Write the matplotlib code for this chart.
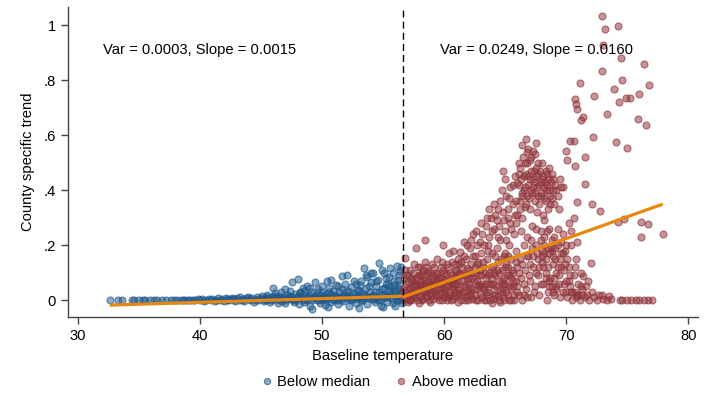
import matplotlib
matplotlib.use("Agg")
import matplotlib.pyplot as plt
from matplotlib.colors import to_rgba
from matplotlib.lines import Line2D

plt.rcParams['font.family'] = ['Liberation Sans', 'DejaVu Sans']

# ---------------- data ----------------
below_pts = [
    (32.6,0),(33.3,0),(33.6,0),(34.4,0),(34.6,0),(35.0,0.001),(35.3,0),(35.5,0),(35.9,0.001),(36.2,0),
    (36.5,0),(36.9,0.001),(37.2,0),(37.6,0),(37.9,0.001),(38.1,0),(38.4,0.002),(38.6,0),(38.8,0.001),(39.0,0),
    (39.2,0.002),(39.4,0),(39.6,0.001),(39.8,0.003),
    (40.0,0.001),(40.2,0.003),(40.3,-0.002),(40.5,0.002),(40.7,0.004),(40.9,0),(41.0,0.005),(41.2,-0.003),
    (41.3,0.002),(41.5,0.006),(41.6,0.001),(41.8,0.004),(42.0,-0.002),(42.1,0.007),(42.3,0.003),(42.4,0),
    (42.6,0.008),(42.7,0.004),(42.9,-0.004),(43.0,0.006),(43.2,0.002),(43.3,0.01),(43.5,0.004),(43.6,-0.003),
    (43.8,0.007),(43.9,0.012),(44.1,0.002),(44.2,0.008),(44.4,-0.005),(44.5,0.005),(44.7,0.011),(44.8,0.001),
    (45.0,0.008),
    (45.1,0.015),(45.2,-0.004),(45.3,0.005),(45.5,0.02),(45.6,0.009),(45.7,-0.008),(45.9,0.012),(46.0,0.003),
    (46.1,0.025),(46.3,0.007),(46.4,-0.01),(46.5,0.016),(46.6,0.03),(46.8,0.004),(46.9,0.011),(47.0,-0.012),
    (47.1,0.02),(47.2,0.006),(47.4,0.035),(47.5,0.065),(47.5,0.013),(47.7,-0.005),(47.8,0.024),(47.9,0.002),
    (48.0,0.076),(48.0,0.015),(48.1,-0.015),(48.2,0.03),(48.3,0.008),(48.4,0.045),(48.5,-0.006),(48.6,0.018),
    (48.7,0.004),(48.8,0.05),(48.9,0.01),(49.0,-0.02),(49.1,0.028),(49.2,-0.033),(49.3,0.012),(49.4,0.066),
    (49.5,0.02),(49.6,0.002),(49.7,0.04),(49.8,-0.01),(49.9,0.015),
    (50.0,0.03),(50.1,0.005),(50.2,-0.018),(50.3,0.022),(50.4,0.069),(50.5,0.01),(50.6,0.045),(50.7,0.073),
    (50.7,-0.006),(50.8,0.016),(50.9,0.035),(51.0,0.002),(51.1,0.055),(51.2,0.012),(51.3,-0.015),(51.4,0.028),
    (51.5,0.008),(51.6,0.087),(51.6,0.04),(51.7,-0.004),(51.8,0.018),(51.9,0.06),(52.0,0.006),(52.1,0.032),
    (52.2,-0.02),(52.3,0.014),(52.4,0.048),(52.5,0.003),(52.6,0.07),(52.7,0.022),(52.8,-0.01),(52.9,0.038),
    (53.0,0.01),(53.1,0.055),(53.2,-0.003),(53.3,0.026),(53.4,0.116),(53.5,0.015),(53.6,0.045),(53.7,0.085),
    (53.7,-0.015),(53.8,0.008),(53.9,0.03),(54.0,0.065),(54.1,0.004),(54.2,0.097),(54.2,0.02),(54.3,-0.008),
    (54.4,0.05),(54.5,0.012),(54.6,0.075),(54.7,0.134),(54.7,0.028),(54.8,-0.02),(54.9,0.04),(55.0,0.007),
    (55.1,0.097),(55.1,0.018),(55.2,0.06),(55.3,-0.005),(55.4,0.035),(55.5,0.085),(55.5,0.01),(55.6,0.05),
    (55.7,0.022),(55.8,-0.012),(55.9,0.07),(56.0,0.03),(56.1,0.124),(56.1,0.005),(56.2,0.045),(56.3,0.09),
    (56.3,0.015),(56.4,0.06),(56.5,0.12),(56.5,0.025),(56.55,-0.01),
    (45.4,0.002),(46.2,0.01),(46.7,-0.002),(47.3,0.008),(47.6,0.0),(48.25,0.012),(48.75,-0.001),(49.25,0.006),
    (49.75,0.0),(50.25,0.008),(50.75,0.02),(51.25,0.0),(51.75,0.01),(52.25,0.004),(52.75,0.009),(53.25,0.0),
    (53.75,0.012),(54.25,0.005),(54.75,0.0),(55.25,0.01),(55.75,0.004),(56.25,0.0),(50.5,-0.025),(53.0,-0.028),
    (55.0,-0.025),(56.0,-0.02),(52.0,0.09),(54.0,0.1),(55.8,0.1),(56.4,0.105),(55.6,0.115),
]

below_pts_dense = [
    (42.2,0.001),(42.8,0.003),(43.4,0.0),(44.0,0.004),(44.6,0.0),(45.15,0.004),(45.45,0.01),(45.8,0.0),
    (46.05,0.014),(46.35,0.0),(46.75,0.007),(47.05,0.002),(47.35,0.016),(47.65,0.004),(47.95,0.009),
    (48.15,0.025),(48.45,0.0),(48.65,0.008),(48.95,0.02),(49.15,0.002),(49.45,0.01),(49.65,0.03),
    (49.95,0.005),(50.15,0.015),(50.35,0.0),(50.55,0.03),(50.85,0.005),(51.05,0.02),(51.35,0.01),
    (51.55,0.0),(51.85,0.03),(52.05,0.016),(52.35,0.0),(52.55,0.025),(52.85,0.012),(53.05,0.035),
    (53.35,0.005),(53.55,0.02),(53.85,0.05),(54.05,0.015),(54.35,0.03),(54.55,0.0),(54.85,0.02),
    (55.05,0.045),(55.35,0.015),(55.55,0.03),(55.85,0.04),(56.05,0.015),(56.35,0.035),(56.5,0.0),
    (55.2,0.08),(54.4,0.07),(53.2,0.07),(52.8,0.06),(56.2,0.075),(55.9,0.055),(51.3,0.05),(50.0,0.05),
    (49.0,0.045),(48.5,0.035),(47.0,0.04),(46.0,0.045),(53.6,0.09),(54.9,0.11),(55.4,0.06),
]

above_pts = [
    # 56.6 - 60
    (56.7,0.005),(56.8,0.03),(56.8,0.153),(56.9,0.06),(57.0,-0.005),(57.0,0.09),(57.1,0.02),(57.2,0.045),
    (57.2,0.11),(57.3,0.0),(57.4,0.07),(57.5,0.03),(57.5,0.13),(57.6,0.01),(57.7,0.19),(57.7,0.055),
    (57.8,0.085),(57.9,-0.01),(57.9,0.04),(58.0,0.12),(58.0,0.015),(58.1,0.065),(58.2,0.095),(58.2,0.0),
    (58.3,0.035),(58.4,0.22),(58.4,0.14),(58.5,0.075),(58.5,0.01),(58.6,0.05),(58.7,0.105),(58.8,-0.005),
    (58.8,0.025),(58.9,0.08),(59.0,0.13),(59.0,0.04),(59.1,0.005),(59.2,0.06),(59.3,0.1),(59.3,0.02),
    (59.4,0.15),(59.5,0.045),(59.6,0.0),(59.6,0.085),(59.7,0.12),(59.8,0.03),(59.9,0.2),(59.9,0.065),
    (60.0,0.01),(60.0,0.1),
    (56.9,0.015),(57.1,0.04),(57.3,0.08),(57.6,0.06),(57.8,0.0),(58.1,0.03),(58.3,0.11),(58.6,0.015),
    (58.9,0.055),(59.1,0.09),(59.4,0.01),(59.7,0.04),(57.4,0.02),(58.7,0.07),(59.8,0.14),(57.2,0.0),
    (58.0,0.05),(59.5,0.075),(56.7,0.08),(56.75,0.11),
    # 60 - 63
    (60.1,0.04),(60.2,0.13),(60.2,0.0),(60.3,0.07),(60.4,0.17),(60.4,0.02),(60.5,0.1),(60.6,0.05),
    (60.7,0.18),(60.7,0.005),(60.8,0.08),(60.9,0.13),(60.9,0.03),(61.0,0.06),(61.1,0.15),(61.1,-0.005),
    (61.2,0.1),(61.3,0.175),(61.3,0.04),(61.4,0.02),(61.5,0.12),(61.5,0.07),(61.6,0.21),(61.7,0.0),
    (61.7,0.09),(61.8,0.15),(61.9,0.035),(62.0,0.11),(62.0,0.06),(62.1,0.19),(62.2,0.015),(62.2,0.13),
    (62.3,0.08),(62.4,0.24),(62.4,0.04),(62.5,0.16),(62.6,0.0),(62.6,0.1),(62.7,0.2),(62.8,0.055),
    (62.8,0.14),(62.9,0.025),(63.0,0.28),(63.0,0.09),(63.0,0.17),
    (60.3,0.01),(60.6,0.09),(60.9,0.06),(61.2,0.025),(61.6,0.05),(61.9,0.08),(62.3,0.005),(62.7,0.07),
    (60.5,0.03),(61.0,0.11),(61.4,0.14),(62.1,0.045),(62.5,0.12),(62.9,0.11),(60.8,0.015),(61.8,0.01),
    # 63 - 66
    (63.1,0.01),(63.2,0.12),(63.2,0.05),(63.3,0.2),(63.4,0.0),(63.4,0.08),(63.5,0.15),(63.5,0.3),
    (63.6,0.03),(63.7,0.1),(63.7,0.23),(63.8,0.3),(63.8,0.06),(63.9,0.17),(64.0,0.005),(64.0,0.12),
    (64.1,0.26),(64.1,0.04),(64.2,0.09),(64.3,0.29),(64.3,0.19),(64.4,0.015),(64.4,0.14),(64.5,0.07),
    (64.6,0.36),(64.6,0.22),(64.7,0.03),(64.7,0.11),(64.8,0.47),(64.8,0.32),(64.9,0.16),(64.9,0.0),
    (65.0,0.06),(65.0,0.25),(65.1,0.38),(65.1,0.13),(65.2,0.33),(65.2,0.02),(65.3,0.09),(65.3,0.2),
    (65.4,0.41),(65.4,0.28),(65.5,0.045),(65.5,0.15),(65.6,0.35),(65.6,0.1),(65.7,0.0),(65.7,0.24),
    (65.8,0.45),(65.8,0.31),(65.9,0.07),(65.9,0.18),(66.0,0.425),(66.0,0.03),
    (63.3,0.04),(63.6,0.09),(64.0,0.06),(64.2,0.02),(64.5,0.1),(64.9,0.08),(65.3,0.0),(65.6,0.05),
    (66.0,0.12),(63.9,-0.01),(64.6,-0.005),(65.2,0.12),(63.5,0.02),(64.8,0.04),(65.0,0.17),
    # 66 - 70 upper arm
    (66.1,0.5),(66.2,0.36),(66.3,0.44),(66.4,0.564),(66.4,0.3),(66.5,0.4),(66.6,0.5),(66.6,0.34),
    (66.7,0.585),(66.7,0.46),(66.8,0.538),(66.8,0.38),(66.9,0.42),(67.0,0.51),(67.0,0.33),(67.1,0.47),
    (67.2,0.39),(67.3,0.542),(67.3,0.44),(67.4,0.36),(67.5,0.571),(67.5,0.48),(67.6,0.41),(67.7,0.46),
    (67.8,0.35),(67.9,0.43),(68.0,0.5),(68.0,0.39),(68.1,0.45),(68.2,0.37),(68.3,0.47),(68.4,0.42),
    (68.5,0.33),(68.6,0.44),(68.7,0.38),(68.8,0.46),(68.9,0.4),(69.0,0.35),(69.1,0.42),(69.3,0.38),
    (69.5,0.44),(69.7,0.41),(69.4,0.33),(68.2,0.29),(67.2,0.27),(66.3,0.25),
    # 66 - 70 lower
    (66.1,0.02),(66.2,0.15),(66.3,0.08),(66.4,0.0),(66.5,0.2),(66.6,0.11),(66.7,0.04),(66.8,0.23),
    (66.9,0.16),(67.0,0.07),(67.1,0.01),(67.2,0.19),(67.3,0.12),(67.4,0.05),(67.5,0.26),(67.6,0.17),
    (67.7,0.09),(67.8,0.02),(67.9,0.22),(68.0,0.14),(68.1,0.06),(68.2,0.2),(68.3,0.1),(68.4,0.25),
    (68.5,0.03),(68.6,0.17),(68.7,0.08),(68.8,0.22),(68.9,0.13),(69.0,0.02),(69.1,0.19),(69.2,0.1),
    (69.3,0.26),(69.4,0.06),(69.5,0.15),(69.6,0.21),(69.7,0.03),(69.8,0.11),(69.9,0.18),(70.0,0.07),
    (66.5,0.06),(67.0,0.13),(67.5,0.1),(68.0,0.18),(68.5,0.12),(69.0,0.08),(69.5,0.01),(66.8,0.01),
    (67.7,0.15),(68.8,0.05),
    # 70 - 72.5
    (70.1,0.01),(70.2,0.12),(70.3,0.05),(70.4,0.2),(70.5,0.0),(70.6,0.09),(70.7,0.03),(70.8,0.15),
    (70.9,0.02),(71.0,0.06),(71.1,0.0),(71.2,0.1),(71.3,0.04),(71.4,0.087),(71.5,0.01),(71.6,0.05),
    (71.7,0.02),(71.9,0.0),(72.0,0.135),(72.1,0.03),(72.3,0.01),(72.5,0.0),(72.7,0.02),(71.8,0.07),
    (70.4,0.25),(70.2,0.28),(70.6,0.3),
    # sparse upper right
    (72.95,1.033),(73.2,0.985),(74.2,0.996),(73.0,0.927),(74.5,0.88),(76.4,0.858),(72.95,0.833),
    (74.6,0.80),(71.1,0.789),(76.8,0.782),(73.9,0.767),(72.3,0.742),(70.7,0.731),(70.8,0.713),
    (70.9,0.695),(74.3,0.72),(74.9,0.734),(75.2,0.734),(76.0,0.749),(73.3,0.676),(71.4,0.665),
    (71.2,0.655),(75.9,0.658),(76.5,0.636),(72.2,0.593),(70.3,0.578),(70.6,0.578),(74.1,0.575),
    (75.0,0.553),(70.0,0.542),(71.5,0.52),(70.1,0.509),(70.7,0.487),(71.5,0.422),(69.6,0.41),
    (70.9,0.356),(72.1,0.349),(72.8,0.324),(74.2,0.284),(74.7,0.295),(76.1,0.284),(76.7,0.276),
    (76.1,0.229),(77.9,0.24),(70.9,0.211),
    # flat row near zero on the right
    (73.0,0.005),(73.3,0.0),(73.7,0.003),(74.4,0.0),(74.6,0.002),(75.0,0.0),(75.3,0.001),(75.7,0.0),
    (76.0,0.001),(76.4,0.0),(76.7,0.0),(77.0,0.001),(72.9,0.02),(73.5,0.015),
]

above_pts_dense = [
    (56.65,0.04),(56.85,0.09),(57.05,0.065),(57.15,0.0),(57.35,0.05),(57.45,0.1),(57.55,0.015),(57.65,0.075),
    (57.75,0.035),(57.85,0.12),(57.95,0.06),(58.05,0.09),(58.15,0.005),(58.25,0.055),(58.35,0.075),
    (58.45,0.03),(58.55,0.12),(58.65,0.04),(58.75,0.0),(58.85,0.1),(58.95,0.02),(59.05,0.07),(59.15,0.12),
    (59.25,0.04),(59.35,0.065),(59.45,0.095),(59.55,0.02),(59.65,0.06),(59.75,0.08),(59.85,0.0),
    (59.95,0.045),(60.05,0.075),(60.15,0.095),(60.25,0.05),(60.35,0.12),(60.45,0.065),(60.55,0.0),
    (60.65,0.14),(60.75,0.04),(60.85,0.11),(60.95,0.085),(61.05,0.02),(61.15,0.07),(61.25,0.13),(61.35,0.0),
    (61.45,0.095),(61.55,0.03),(61.65,0.16),(61.75,0.06),(61.85,0.115),(61.95,0.0),(62.05,0.085),
    (62.15,0.03),(62.25,0.1),(62.35,0.16),(62.45,0.07),(62.55,0.02),(62.65,0.13),(62.75,0.0),(62.85,0.09),
    (62.95,0.05),
    (63.05,0.06),(63.15,0.14),(63.25,0.0),(63.35,0.1),(63.45,0.03),(63.55,0.18),(63.65,0.06),(63.75,0.0),
    (63.85,0.12),(63.95,0.08),(64.05,0.02),(64.15,0.16),(64.25,0.05),(64.35,0.11),(64.45,0.0),(64.55,0.04),
    (64.65,0.15),(64.75,0.07),(64.85,0.01),(64.95,0.12),(65.05,0.03),(65.15,0.09),(65.25,0.16),(65.35,0.05),
    (65.45,0.0),(65.55,0.11),(65.65,0.07),(65.75,0.02),(65.85,0.14),(65.95,0.05),
    (62.2,0.22),(62.6,0.25),(63.1,0.24),(63.4,0.27),(63.9,0.25),(64.2,0.31),(64.5,0.27),(64.9,0.29),
    (65.1,0.22),(65.5,0.26),(65.9,0.28),(63.6,0.2),(64.4,0.23),(61.9,0.2),(62.9,0.21),
    (66.15,0.42),(66.25,0.48),(66.35,0.38),(66.45,0.52),(66.55,0.45),(66.65,0.41),(66.75,0.5),(66.85,0.45),
    (66.95,0.37),(67.05,0.44),(67.15,0.52),(67.25,0.41),(67.35,0.47),(67.45,0.39),(67.55,0.45),(67.65,0.5),
    (67.75,0.42),(67.85,0.47),(67.95,0.38),(68.05,0.44),(68.15,0.41),(68.25,0.43),(68.35,0.36),(68.45,0.46),
    (68.55,0.4),(68.65,0.35),(68.75,0.43),(68.85,0.37),(68.95,0.44),(69.2,0.4),(66.9,0.55),(67.4,0.53),
    (66.2,0.33),(67.6,0.32),(68.1,0.31),
    (66.15,0.1),(66.35,0.13),(66.55,0.02),(66.75,0.16),(66.95,0.09),(67.15,0.22),(67.35,0.03),(67.55,0.2),
    (67.75,0.12),(67.95,0.06),(68.15,0.23),(68.35,0.15),(68.55,0.07),(68.75,0.19),(68.95,0.16),(69.15,0.04),
    (69.35,0.2),(69.55,0.12),(69.75,0.17),(69.95,0.03),(68.4,0.0),(67.3,0.16),(69.0,0.23),(69.8,0.06),
    (70.1,0.15),(70.3,0.09),(70.5,0.03),(70.7,0.12),(71.0,0.02),(71.2,0.05),
]

above_pts_extra = [
    (68.2,0.17),(68.5,0.19),(68.8,0.18),(69.1,0.15),(69.3,0.12),(69.4,0.09),(69.2,0.05),(68.9,0.03),
    (68.6,0.05),(68.3,0.08),(68.1,0.12),(68.0,0.16),(69.6,0.17),(69.9,0.13),(70.2,0.07),(70.4,0.03),
    (70.8,0.01),(71.3,0.02),(70.0,0.2),(69.7,0.24),(68.6,0.26),(67.9,0.25),
    (64.4,0.33),(64.7,0.4),(65.0,0.44),(65.3,0.37),(65.6,0.42),(65.9,0.36),(66.1,0.46),(66.4,0.39),
    (66.7,0.35),(67.1,0.4),(67.4,0.43),(67.7,0.38),(68.3,0.4),(68.6,0.48),(65.2,0.3),(64.1,0.35),
    (63.7,0.33),(66.0,0.31),
    (57.3,0.03),(57.9,0.09),(58.6,0.1),(59.2,0.03),(59.9,0.11),(60.6,0.06),(61.3,0.09),(62.0,0.02),
    (62.7,0.04),(63.4,0.06),(64.1,0.1),(64.8,0.06),(65.5,0.08),(61.1,0.04),(60.1,0.02),(58.4,0.045),
]

fit_below_x = [32.6, 56.6]
fit_below_y = [-0.018, 0.0145]
fit_above_x = [56.6, 77.9]
fit_above_y = [0.011, 0.349]

median_temp = 56.6
x_ticks = [30, 40, 50, 60, 70, 80]
y_ticks = [0, 0.2, 0.4, 0.6, 0.8, 1.0]
y_tick_labels = ['0', '.2', '.4', '.6', '.8', '1']
text_left = "Var = 0.0003, Slope = 0.0015"
text_right = "Var = 0.0249, Slope = 0.0160"

# ---------------- drawing ----------------
blue = '#1f5a8e'
red = '#90353b'
orange = '#e8870e'
FS = 10.6

fig = plt.figure(figsize=(7.08, 3.96), dpi=100)
ax = fig.add_axes([0.096, 0.199, 0.890, 0.783])

blue_all = below_pts + below_pts_dense
red_all = above_pts + above_pts_dense + above_pts_extra
bx = [p[0] for p in blue_all]
by = [p[1] for p in blue_all]
rx = [p[0] for p in red_all]
ry = [p[1] for p in red_all]

ax.scatter(bx, by, s=25, facecolor=to_rgba(blue, 0.52), edgecolor=to_rgba(blue, 0.68),
           linewidth=0.8, zorder=2)
ax.scatter(rx, ry, s=25, facecolor=to_rgba(red, 0.52), edgecolor=to_rgba(red, 0.68),
           linewidth=0.8, zorder=2)

ax.plot(fit_below_x, fit_below_y, color=orange, lw=2.3, zorder=3, solid_capstyle='butt')
ax.plot(fit_above_x, fit_above_y, color=orange, lw=2.3, zorder=3, solid_capstyle='butt')
ax.axvline(median_temp, color='black', lw=1.0, dashes=(5, 3), zorder=4)

ax.text(40.0, 0.909, text_left, ha='center', va='center', fontsize=FS)
ax.text(67.6, 0.909, text_right, ha='center', va='center', fontsize=FS)

ax.set_xlim(29.18, 80.8)
ax.set_ylim(-0.062, 1.065)
ax.set_xticks(x_ticks)
ax.set_yticks(y_ticks)
ax.set_yticklabels(y_tick_labels)
ax.tick_params(axis='both', labelsize=FS, length=5, width=1, color='#444444', direction='out')
ax.set_xlabel('Baseline temperature', fontsize=FS, labelpad=4)
ax.set_ylabel('County specific trend', fontsize=FS, labelpad=6)
for s in ['top', 'right']:
    ax.spines[s].set_visible(False)
for s in ['left', 'bottom']:
    ax.spines[s].set_color('#444444')
    ax.spines[s].set_linewidth(1.0)

handles = [
    Line2D([], [], marker='o', ls='none', markersize=4.5, markerfacecolor=to_rgba(blue, 0.52),
           markeredgecolor=to_rgba(blue, 0.68), markeredgewidth=0.8),
    Line2D([], [], marker='o', ls='none', markersize=4.5, markerfacecolor=to_rgba(red, 0.52),
           markeredgecolor=to_rgba(red, 0.68), markeredgewidth=0.8),
]
fig.legend(handles, ['Below median', 'Above median'], loc='center', bbox_to_anchor=(0.541, 0.035),
           ncol=2, frameon=False, fontsize=FS, handletextpad=0.2, columnspacing=1.6,
           handlelength=1.0)

fig.savefig('out.png', dpi=100, facecolor='white')
